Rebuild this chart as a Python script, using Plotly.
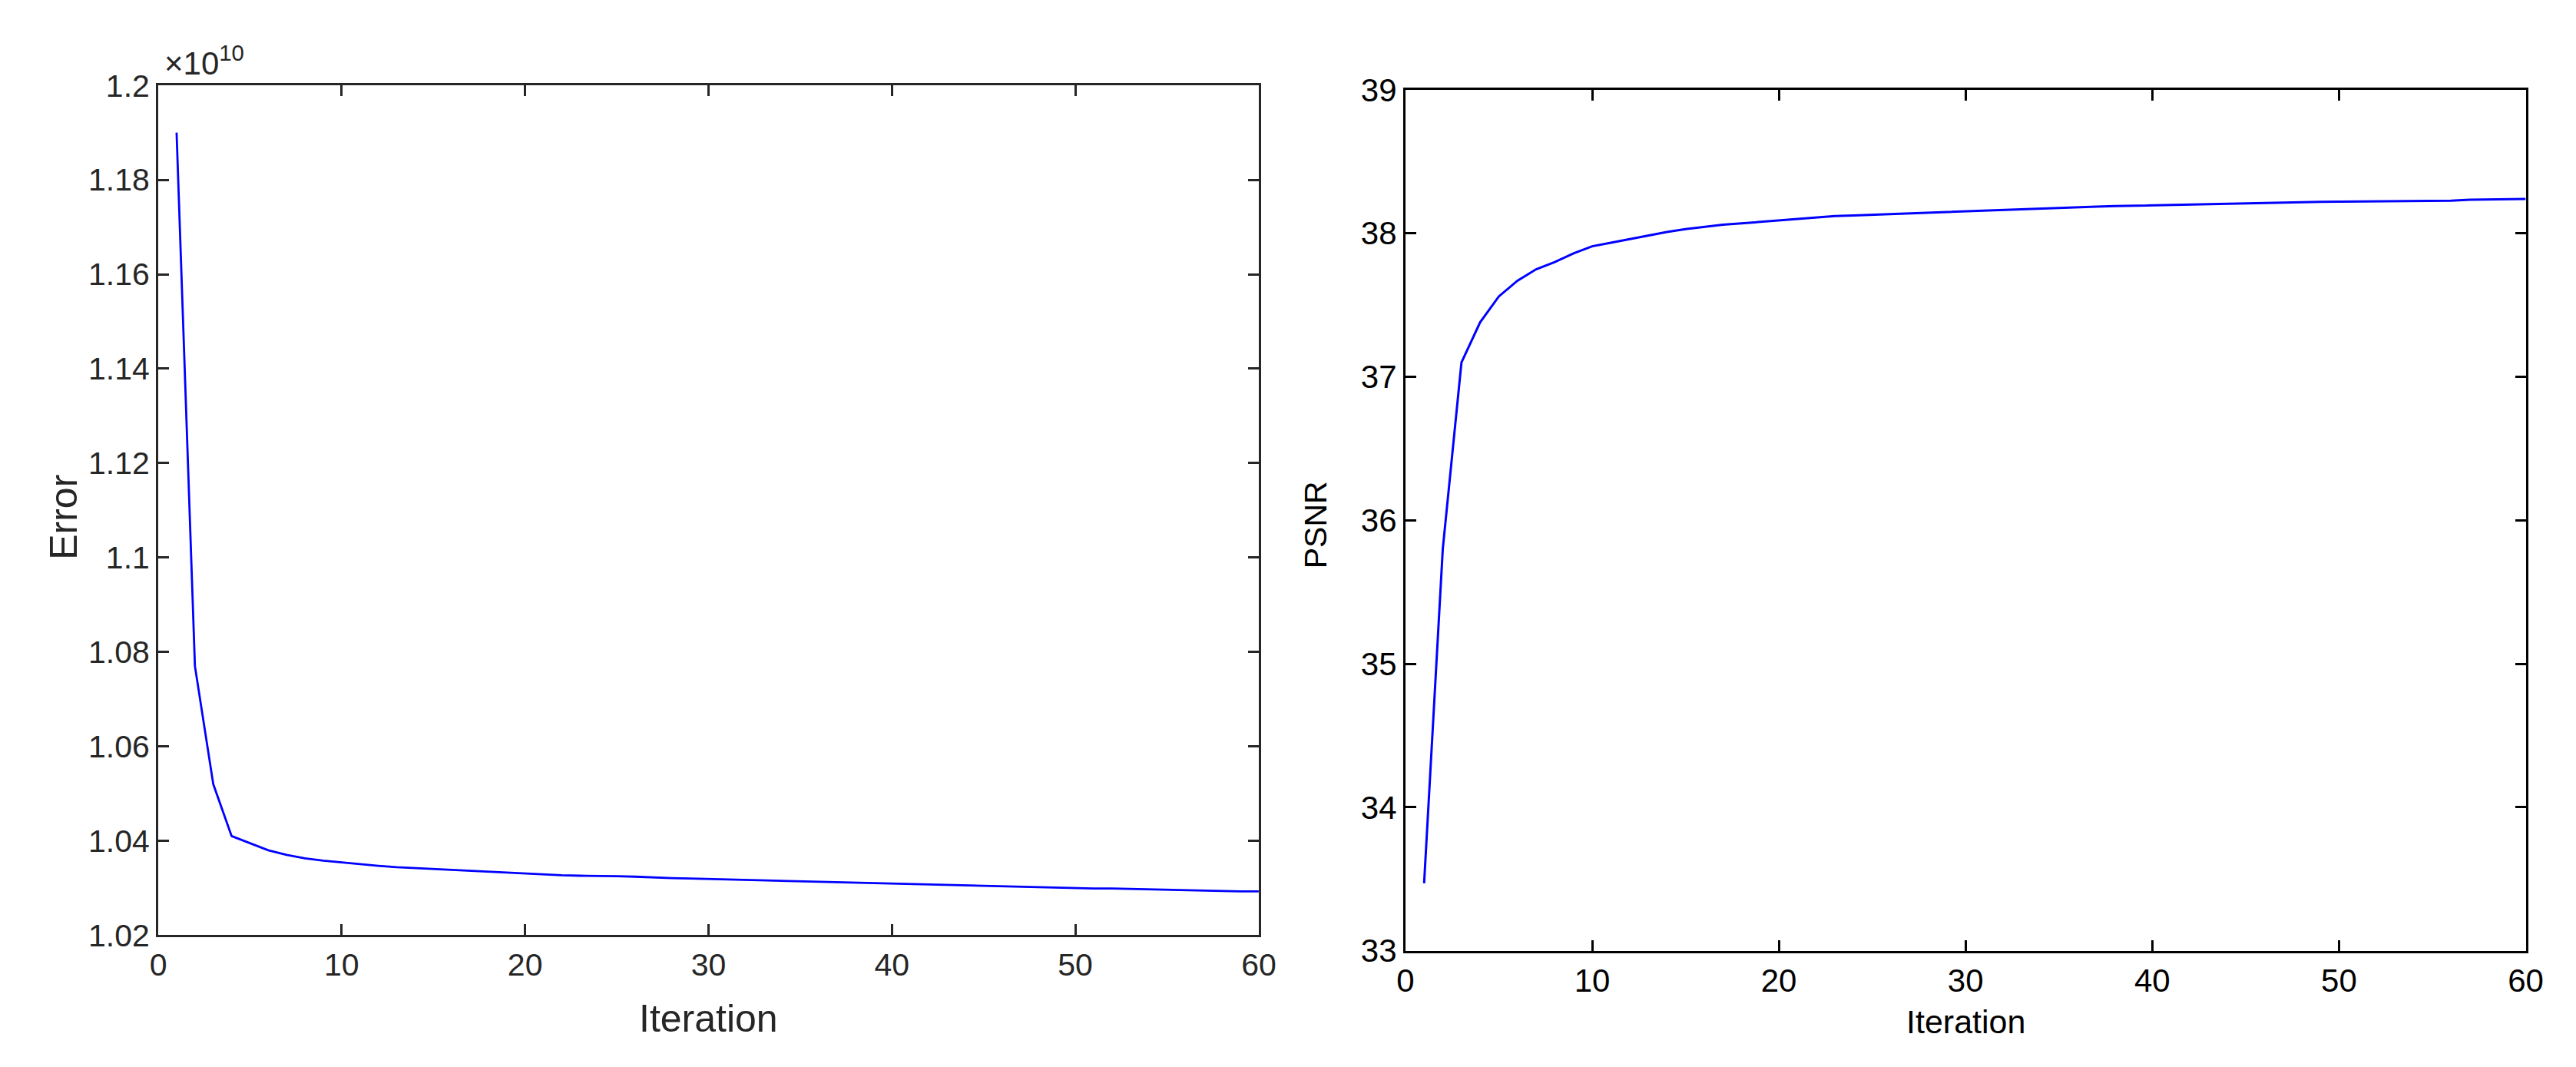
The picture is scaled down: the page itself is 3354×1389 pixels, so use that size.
import plotly.graph_objects as go

# ---------------- data ----------------
iterations = list(range(1, 61))

error_e10 = [
    1.190, 1.077, 1.052, 1.041, 1.0395, 1.038, 1.037, 1.0363, 1.0358, 1.0354,
    1.0350, 1.0347, 1.0344, 1.0342, 1.0340, 1.0338, 1.0336, 1.0334, 1.0332, 1.0330,
    1.0328, 1.0327, 1.0326, 1.0326, 1.0325, 1.0324, 1.0322, 1.0321, 1.0320, 1.0319,
    1.0318, 1.0317, 1.0316, 1.0315, 1.0314, 1.0313, 1.0312, 1.0311, 1.0310, 1.0310,
    1.0309, 1.0308, 1.0307, 1.0306, 1.0305, 1.0304, 1.0303, 1.0302, 1.0301, 1.0300,
    1.0299, 1.0299, 1.0298, 1.0297, 1.0296, 1.0295, 1.0294, 1.0294, 1.0293, 1.0293,
]

psnr = [
    33.47, 35.80, 37.10, 37.38, 37.56, 37.67, 37.75, 37.80, 37.86, 37.91,
    37.935, 37.96, 37.985, 38.01, 38.03, 38.045, 38.06, 38.07, 38.08, 38.09,
    38.10, 38.11, 38.12, 38.125, 38.13, 38.135, 38.14, 38.145, 38.15, 38.155,
    38.16, 38.165, 38.17, 38.175, 38.18, 38.183, 38.186, 38.19, 38.193, 38.196,
    38.199, 38.202, 38.205, 38.208, 38.21, 38.213, 38.215, 38.217, 38.219, 38.221,
    38.222, 38.223, 38.224, 38.225, 38.226, 38.228, 38.235, 38.237, 38.238, 38.24,
]

x_ticks = [0, 10, 20, 30, 40, 50, 60]
err_tickvals = [1.02, 1.04, 1.06, 1.08, 1.10, 1.12, 1.14, 1.16, 1.18, 1.20]
err_ticktext = ["1.02", "1.04", "1.06", "1.08", "1.1", "1.12", "1.14", "1.16", "1.18", "1.2"]
psnr_ticks = [33, 34, 35, 36, 37, 38, 39]

# ---------------- figure ----------------
W, H = 3354, 1389
fig = go.Figure()

fig.add_trace(go.Scatter(x=iterations, y=error_e10, mode="lines",
                         line=dict(color="#0000FF", width=2.8),
                         xaxis="x", yaxis="y", showlegend=False))
fig.add_trace(go.Scatter(x=iterations, y=psnr, mode="lines",
                         line=dict(color="#0000FF", width=3),
                         xaxis="x2", yaxis="y2", showlegend=False))

FAM = "Liberation Sans, Arial, sans-serif"
left_font = dict(family=FAM, size=41, color="#262626")
right_font = dict(family=FAM, size=42, color="#000000")


def px_x(p):
    return p / W


def px_y(p):
    return 1 - p / H


common = dict(showgrid=False, zeroline=False, showline=True, linewidth=3,
              ticks="inside", ticklen=14, tickwidth=3, mirror="ticks")

fig.update_layout(
    width=W, height=H,
    margin=dict(l=0, r=0, t=0, b=0),
    paper_bgcolor="white", plot_bgcolor="white",
    xaxis=dict(domain=[px_x(188), px_x(1636)], range=[0, 60], tickvals=x_ticks,
               linecolor="#262626", tickcolor="#262626", tickfont=left_font,
               anchor="y", **common),
    yaxis=dict(domain=[px_y(1228), px_y(83)], range=[1.02, 1.20],
               tickvals=err_tickvals, ticktext=err_ticktext,
               linecolor="#262626", tickcolor="#262626", tickfont=left_font,
               anchor="x", **common),
    xaxis2=dict(domain=[px_x(1829), px_x(3303)], range=[0, 60], tickvals=x_ticks,
                linecolor="#000000", tickcolor="#000000", tickfont=right_font,
                anchor="y2", **common),
    yaxis2=dict(domain=[px_y(1249), px_y(89)], range=[33, 39], tickvals=psnr_ticks,
                linecolor="#000000", tickcolor="#000000", tickfont=right_font,
                anchor="x2", **common),
)

annotations = [
    dict(text="Iteration", x=px_x(912), y=px_y(1340), xref="paper", yref="paper",
         xanchor="center", yanchor="middle", showarrow=False,
         font=dict(family=FAM, size=50, color="#262626")),
    dict(text="Error", x=px_x(64), y=px_y(665), xref="paper", yref="paper",
         xanchor="center", yanchor="middle", showarrow=False, textangle=-90,
         font=dict(family=FAM, size=50, color="#262626")),
    dict(text="×10<sup>10</sup>", x=px_x(194), y=px_y(80), xref="paper", yref="paper",
         xanchor="left", yanchor="bottom", showarrow=False,
         font=dict(family=FAM, size=42, color="#262626")),
    dict(text="Iteration", x=px_x(2566), y=px_y(1345), xref="paper", yref="paper",
         xanchor="center", yanchor="middle", showarrow=False,
         font=dict(family=FAM, size=43, color="#000000")),
    dict(text="PSNR", x=px_x(1711), y=px_y(675), xref="paper", yref="paper",
         xanchor="center", yanchor="middle", showarrow=False, textangle=-90,
         font=dict(family=FAM, size=41, color="#000000")),
]
fig.update_layout(annotations=annotations)

fig.write_html("out.html")
